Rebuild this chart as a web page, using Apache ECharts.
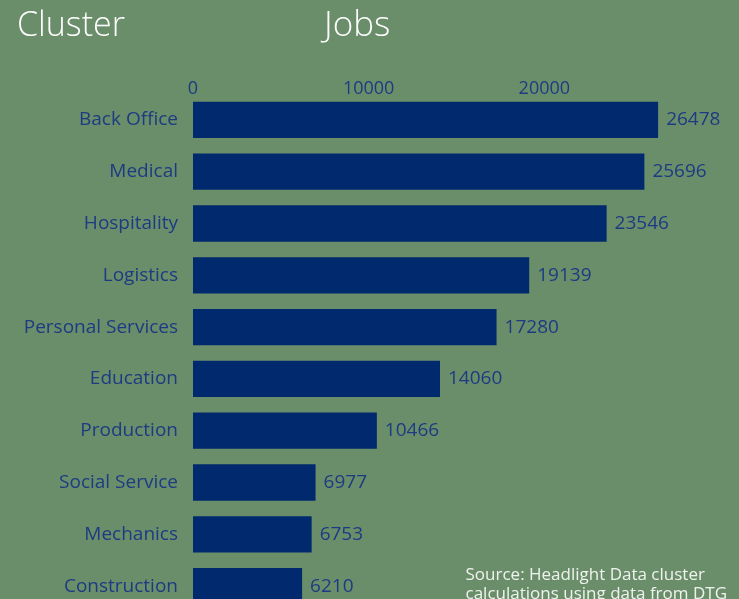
<!DOCTYPE html>
<html><head><meta charset="utf-8">
<script src="https://cdn.jsdelivr.net/npm/echarts@6/dist/echarts.min.js"></script>
<style>html,body{margin:0;padding:0;background:#6b8e6a;overflow:hidden;}#c{width:739px;height:612px;}</style>
</head><body><div id="c"></div>
<script>
const categories = ["Back Office","Medical","Hospitality","Logistics","Personal Services","Education","Production","Social Service","Mechanics","Construction"];
const jobs = [26478,25696,23546,19139,17280,14060,10466,6977,6753,6210];
const xTicks = [0,10000,20000,30000];
const FONT = "Open Sans";
const NAVY_TEXT = "#1c3b82";
const chart = echarts.init(document.getElementById('c'));
chart.setOption({
  backgroundColor: '#6b8e6a',
  animation: false,
  textStyle: {fontFamily: FONT},
  grid: {left: 193, top: 94, width: 527, bottom: 0, containLabel: false},
  graphic: [
    {type:'text', left: 17, top: 9, style:{text:'Cluster', fill:'#ffffff', font:'300 34px "Open Sans"'}},
    {type:'text', left: 324, top: 9, style:{text:'Jobs', fill:'#ffffff', font:'300 35px "Open Sans"'}},
    {type:'text', right: 12, top: 566, style:{text:'Source: Headlight Data cluster\ncalculations using data from DTG', fill:'#eef3ee', font:'17px "Open Sans"', align:'right', lineHeight:19}}
  ],
  xAxis: {
    type: 'value', position: 'top', min: xTicks[0], max: xTicks[xTicks.length-1], interval: 10000,
    splitLine: {show:false}, axisLine:{show:false}, axisTick:{show:false},
    axisLabel: {color: NAVY_TEXT, fontSize: 18, margin: -4, showMaxLabel: false, fontFamily: FONT, formatter: v => String(v)}
  },
  yAxis: {
    type: 'category', data: categories, inverse: true,
    axisLine:{show:false}, axisTick:{show:false},
    axisLabel: {color: NAVY_TEXT, fontSize: 19, margin: 15, fontFamily: FONT, padding: [3,0,0,0]}
  },
  series: [{
    type: 'bar', data: jobs, barCategoryGap: '30%',
    itemStyle: {color: '#00296e'},
    label: {show: true, position: 'right', distance: 8, color: NAVY_TEXT, fontSize: 19, fontFamily: FONT}
  }]
});
</script></body></html>
